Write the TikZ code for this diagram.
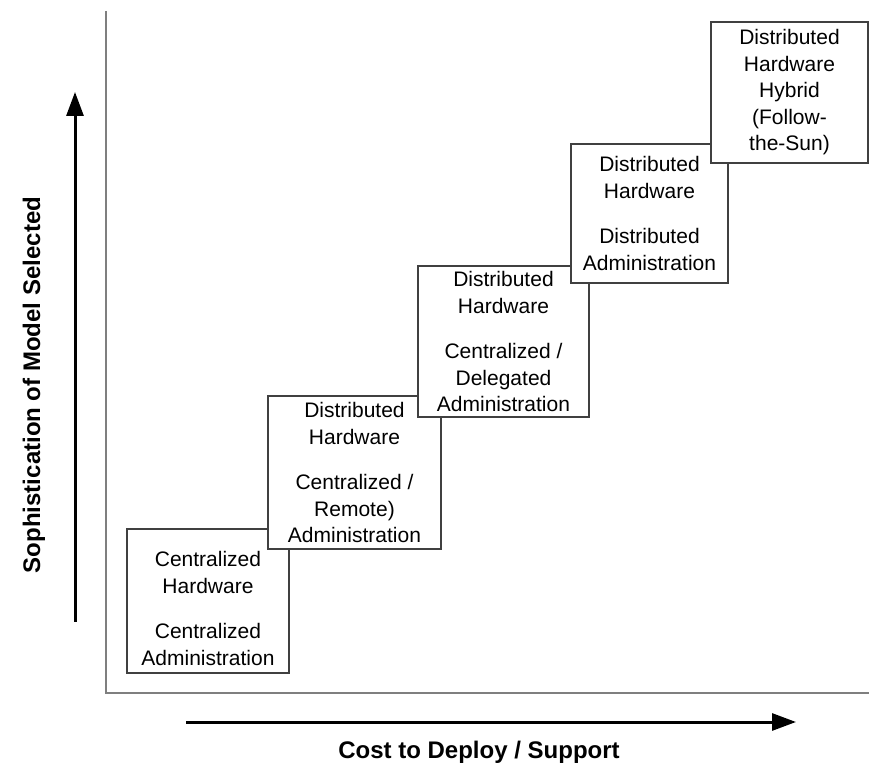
\documentclass[tikz,border=0pt]{standalone}
\usepackage{fontspec}
\setmainfont{Liberation Sans}
\usetikzlibrary{arrows.meta}
\definecolor{axisGray}{HTML}{7F7F7F}
\definecolor{boxGray}{HTML}{404040}

\begin{document}
\begin{tikzpicture}[x=1pt, y=1pt,
  stage/.style={draw=boxGray, line width=1.2pt, fill=white, align=center, inner sep=0pt,
    font=\fontsize{21}{26.5}\selectfont},
  axislabel/.style={font=\bfseries\fontsize{24}{28}\selectfont},
  bigarrow/.style={black, line width=3pt, -{Triangle[length=24pt, width=17pt]}}]
  \useasboundingbox (0,0) rectangle (870,766);

  % axes
  \draw[axisGray, line width=2pt] (105.5,755) -- (105.5,73) -- (869,73);

  % steps, each one on top of the one before
  \node[stage, minimum width=162pt, minimum height=144pt] (central) at (208,165)
    {\rule{0pt}{30pt}Centralized\\ Hardware\\[19pt] Centralized\\ Administration};
  \node[stage, minimum width=173pt, minimum height=153pt] (remote) at (354.5,293.5)
    {Distributed\\ Hardware\\[19pt] Centralized /\\ Remote)\\ Administration};
  \node[stage, minimum width=171pt, minimum height=151pt] (delegated) at (503.5,424.5)
    {Distributed\\ Hardware\\[19pt] Centralized /\\ Delegated\\ Administration};
  \node[stage, minimum width=157pt, minimum height=139pt] (distributed) at (649.5,552.5)
    {Distributed\\ Hardware\\[19pt] Distributed\\ Administration};
  \node[stage, minimum width=157pt, minimum height=141pt] (hybrid) at (789.5,673.5)
    {Distributed\\ Hardware\\ Hybrid\\ (Follow-\\ the-Sun)};

  % axis arrows
  \coordinate (costStart) at (186,44);
  \coordinate (costEnd) at (796,44);
  \draw[bigarrow] (costStart) -- (costEnd);
  \node[axislabel, anchor=base] (costLabel) at (479,8) {Cost to Deploy / Support};

  \coordinate (sophStart) at (75,144);
  \coordinate (sophEnd) at (75,674);
  \draw[bigarrow] (sophStart) -- (sophEnd);
  \node[axislabel, rotate=90] (sophLabel) at (34,381) {Sophistication of Model Selected};
\end{tikzpicture}
\end{document}
